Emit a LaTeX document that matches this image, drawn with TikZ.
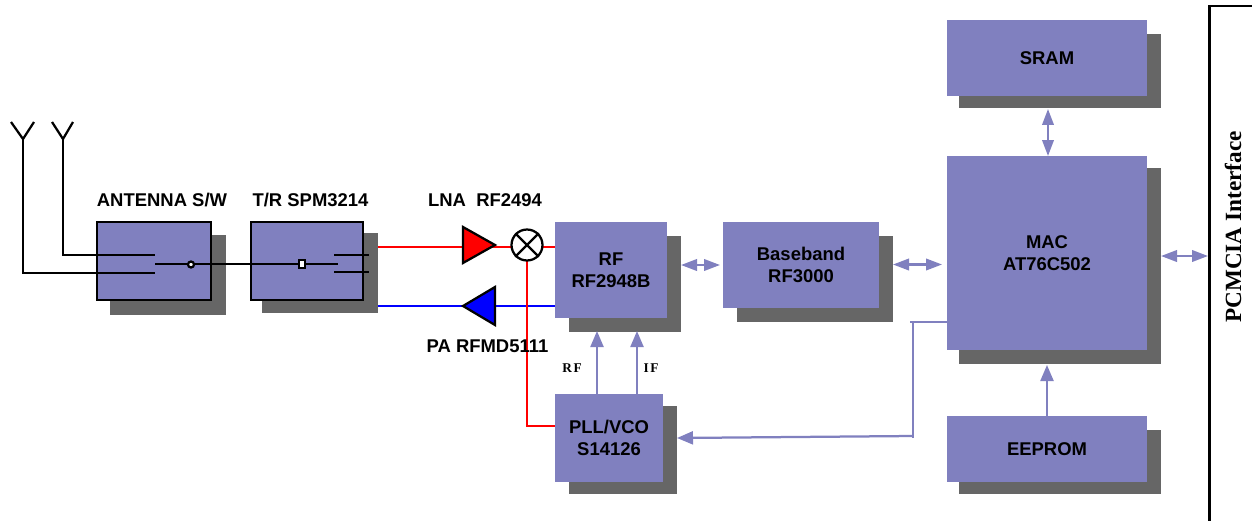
\documentclass[tikz,border=0pt]{standalone}
\usepackage{fontspec}
\setmainfont{Liberation Sans}
\newfontfamily\ifcfont{Liberation Serif}
\newfontfamily\tagfont[LetterSpace=12]{Liberation Serif}
\usepackage{tikz}
\usetikzlibrary{positioning,calc,arrows.meta,shapes.geometric}
\definecolor{chipblue}{RGB}{128,128,191}
\definecolor{chipshade}{RGB}{102,102,102}
\definecolor{rfred}{RGB}{255,0,0}
\definecolor{rfblue}{RGB}{0,0,255}
\tikzset{
  boxsize/.style 2 args={minimum width=#1*0.02cm,minimum height=#2*0.02cm,inner sep=0pt,outer sep=0pt},
  chipbox/.style={fill=chipblue,font=\fontsize{10.5pt}{12.5pt}\selectfont\bfseries,align=center},
  shadebox/.style={fill=chipshade},
  boxlabel/.style={font=\fontsize{10.5pt}{12pt}\selectfont\bfseries,inner sep=0pt},
  blackline/.style={line width=0.045cm,black},
  redline/.style={line width=0.036cm,rfred},
  blueline/.style={line width=0.036cm,rfblue},
  lavline/.style={line width=0.045cm,chipblue},
  lavone/.style={lavline,-{Triangle[length=0.32cm,width=0.26cm]}},
  lavtwo/.style={lavline,{Triangle[length=0.32cm,width=0.23cm]}-{Triangle[length=0.32cm,width=0.23cm]}},
}
\begin{document}
\begin{tikzpicture}[x=0.02cm,y=-0.02cm]
\useasboundingbox (0,0) rectangle (1252,521);
% shadows
\node[shadebox,boxsize={116}{80}] (swshd) at (168,275) {};
\node[shadebox,boxsize={116}{80}] (trshd) at (320,273) {};
\node[shadebox,boxsize={112}{96}] (rfshd) at (625,284) {};
\node[shadebox,boxsize={156}{86}] (bbshd) at (815,279) {};
\node[shadebox,boxsize={202}{196}] (macshd) at (1060,266) {};
\node[shadebox,boxsize={202}{74}] (sramshd) at (1060,71) {};
\node[shadebox,boxsize={202}{64}] (eepshd) at (1060,462) {};
\node[shadebox,boxsize={108}{88}] (pllshd) at (623,450) {};
% red and blue paths
\node[boxsize={112}{96}] (rfpos) at (611,270) {};
\node[boxsize={108}{88}] (pllpos) at (609,438) {};
\draw[blueline] (trshd.east |- 0,306) -- (rfpos.west |- 0,306);
\draw[redline] (trshd.east |- 0,247) -- (rfpos.west |- 0,247);
\draw[redline] (527,245) -- (527,426) -- (pllpos.west |- 0,426);
\draw[blackline,fill=rfred,line join=miter] (463,227) -- (495,245) -- (463,263) -- cycle;
\draw[blackline,fill=rfblue,line join=miter] (495,287) -- (463,306) -- (495,325) -- cycle;
\node[draw=black,line width=0.045cm,fill=white,circle,minimum size=0.62cm,inner sep=0pt] (mixer) at (527,245) {};
\draw[blackline] (mixer.45) -- (mixer.225);
\draw[blackline] (mixer.135) -- (mixer.315);
% boxes
\node[chipbox,boxsize={114}{78},draw=black,line width=0.045cm] (sw) at (154,261) {};
\node[chipbox,boxsize={112}{78},draw=black,line width=0.045cm] (tr) at (307,261) {};
\node[chipbox,boxsize={112}{96}] (rf) at (611,270) {RF\\RF2948B};
\node[chipbox,boxsize={156}{86}] (bb) at (801,265) {Baseband\\RF3000};
\node[chipbox,boxsize={200}{194}] (mac) at (1047,253) {MAC\\AT76C502};
\node[chipbox,boxsize={200}{76}] (sram) at (1047,58) {SRAM};
\node[chipbox,boxsize={200}{66}] (eep) at (1047,449) {EEPROM};
\node[chipbox,boxsize={108}{88}] (pll) at (609,438) {PLL/VCO\\S14126};
% antennas and switch
\coordinate (antl) at (23,139);
\coordinate (antr) at (63,139);
\coordinate (swl) at (155,273);
\coordinate (swr) at (155,255);
\coordinate (trin) at (338,264);
\draw[blackline] (11,122) -- (antl) -- (34,122);
\draw[blackline] (52,122) -- (antr) -- (73,122);
\draw[blackline] (antl) -- (antl |- swl) -- (swl);
\draw[blackline] (antr) -- (antr |- swr) -- (swr);
\draw[blackline] (155,264) -- (trin);
\draw[blackline] (334,255) -- (369,255);
\draw[blackline] (334,272) -- (369,272);
\node[draw=black,line width=0.045cm,fill=white,circle,minimum size=0.12cm,inner sep=0pt] (swdot) at (191,264.5) {};
\node[draw=black,line width=0.045cm,fill=white,boxsize={6}{8}] (trdot) at (302,264) {};
% labels
\node[boxlabel] (swlab) at (162,200) {ANTENNA S/W};
\node[boxlabel] (trlab) at (310.5,200) {T/R SPM3214};
\node[boxlabel] (lnalab) at (485,200) {LNA\ \ RF2494};
\node[boxlabel] (palab) at (487.5,346) {PA RFMD5111};
\node[font=\tagfont\fontsize{7.6pt}{9pt}\selectfont\bfseries,inner sep=0pt] (rftag) at (572,368.5) {RF};
\node[font=\tagfont\fontsize{7.6pt}{9pt}\selectfont\bfseries,inner sep=0pt] (iftag) at (651,368.5) {IF};
\node[font=\ifcfont\fontsize{13.2pt}{14pt}\selectfont\bfseries,rotate=90,inner sep=0pt] (ifclab) at (1233,227) {PCMCIA Interface};
% interface line
\coordinate (ifc) at (1208,256);
\draw[blackline,line join=miter] (1252,6) -- (1209.5,6) -- (1209.5,521);
% lavender connectors
\draw[lavtwo,shorten >=0.06cm] (rfshd.east |- bb.west) -- (bb.west);
\draw[lavtwo,shorten >=0.1cm] (bbshd.east |- 0,264.5) -- (mac.west |- 0,264.5);
\draw[lavtwo] (1048,109) -- (mac.north -| 1048,0);
\draw[lavtwo] (macshd.east |- ifc) -- (ifc);
\draw[lavone] (eep.north -| 1047,0) -- (1047,365);
\draw[lavone] (pll.north -| 597,0) -- (597,331);
\draw[lavone] (pll.north -| 637,0) -- (637,331);
\draw[lavline] (mac.west |- 0,322) -- (910,322);
\draw[lavline] (913,322) -- (913,438);
\draw[lavone] (913,436) -- (pllshd.east |- 0,438);
\end{tikzpicture}
\end{document}
